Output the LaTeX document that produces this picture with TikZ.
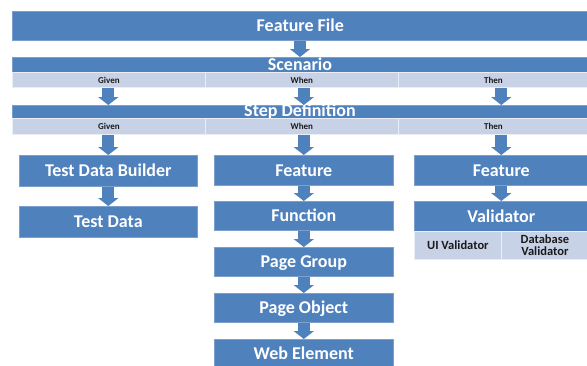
\documentclass[tikz,border=0pt]{standalone}
\usepackage{fontspec}
\setmainfont{Carlito}
\usetikzlibrary{arrows.meta}
\definecolor{dblue}{HTML}{4F81BD}
\definecolor{lblue}{HTML}{C8D2E6}
\definecolor{dtext}{HTML}{1A1A1A}
\begin{document}
\begin{tikzpicture}[x=1pt,y=-1pt,
  bluebox/.style={fill=dblue, draw=dblue!75!white, line width=0.6pt, text=white,
    font=\bfseries\fontsize{18}{20}\selectfont, inner sep=0pt, anchor=north west,
    text height=11.6pt, text depth=0pt},
  barlabel/.style={text=white, font=\bfseries\fontsize{18}{20}\selectfont, inner sep=0pt, anchor=base},
  cell/.style={fill=lblue, draw=white!60!lblue, line width=0.8pt, text=dtext,
    font=\bfseries\fontsize{9}{10}\selectfont, inner sep=0pt, anchor=north west},
  subcell/.style={fill=lblue, draw=white!60!lblue, line width=0.8pt, text=dtext,
    font=\bfseries\fontsize{12.5}{13.5}\selectfont, inner sep=0pt, anchor=north west, align=center},
  blockarr/.style={dblue, line width=12pt, -{Triangle[length=8pt,width=20pt]}}
]
\useasboundingbox (0,0) rectangle (587,365);
\fill[white] (0,0) rectangle (587,365);

% top bars
\node[bluebox, minimum width=576pt, minimum height=29pt] (ff) at (12,11) {Feature File};

\node[bluebox, minimum width=576pt, minimum height=15pt] (scen) at (12,57) {};
\node[barlabel] (scenlab) at (300,70.5) {Scenario};
\node[cell, minimum width=193pt, minimum height=15pt] (sg) at (12,72) {Given};
\node[cell, minimum width=193pt, minimum height=15pt] (sw) at (205,72) {When};
\node[cell, minimum width=190pt, minimum height=15pt] (st) at (398,72) {Then};

\node[bluebox, minimum width=576pt, minimum height=13pt] (step) at (12,105) {};
\node[barlabel] (steplab) at (300,116.5) {Step Definition};
\node[cell, minimum width=193pt, minimum height=16pt] (dg) at (12,118) {Given};
\node[cell, minimum width=193pt, minimum height=16pt] (dw) at (205,118) {When};
\node[cell, minimum width=190pt, minimum height=16pt] (dt) at (398,118) {Then};

% left column
\node[bluebox, minimum width=178pt, minimum height=31pt] (tdb) at (19,155) {Test Data Builder};
\node[bluebox, minimum width=178pt, minimum height=31pt] (td) at (19,206) {Test Data};

% middle column
\node[bluebox, minimum width=179pt, minimum height=30pt] (mf) at (214,155) {Feature};
\node[bluebox, minimum width=179pt, minimum height=29pt] (fn) at (214,201) {Function};
\node[bluebox, minimum width=179pt, minimum height=29pt] (pg) at (214,247) {Page Group};
\node[bluebox, minimum width=179pt, minimum height=29pt] (po) at (214,293) {Page Object};
\node[bluebox, minimum width=179pt, minimum height=29pt] (we) at (214,339) {Web Element};

% right column
\node[bluebox, minimum width=174pt, minimum height=30pt] (rf) at (414,155) {Feature};
\node[bluebox, minimum width=174pt, minimum height=30pt] (va) at (414,201) {Validator};
\node[subcell, minimum width=87pt, minimum height=28pt] (uiv) at (414,231) {UI Validator};
\node[subcell, minimum width=87pt, minimum height=28pt] (dbv) at (501,231) {Database\\[-2pt]Validator};

% arrows
\draw[blockarr] (ff.south -| scenlab) -- (scen.north -| scenlab);
\draw[blockarr] (sg.south -| tdb.north) -- (step.north -| tdb.north);
\draw[blockarr] (sw.south -| mf.north) -- (step.north -| mf.north);
\draw[blockarr] (st.south -| rf.north) -- (step.north -| rf.north);
\draw[blockarr] (dg.south -| tdb.north) -- (tdb.north);
\draw[blockarr] (dw.south -| mf.north) -- (mf.north);
\draw[blockarr] (dt.south -| rf.north) -- (rf.north);
\draw[blockarr] (tdb.south) -- (td.north);
\draw[blockarr] (mf.south) -- (fn.north);
\draw[blockarr] (fn.south) -- (pg.north);
\draw[blockarr] (pg.south) -- (po.north);
\draw[blockarr] (po.south) -- (we.north);
\draw[blockarr] (rf.south) -- (va.north);
\end{tikzpicture}
\end{document}
